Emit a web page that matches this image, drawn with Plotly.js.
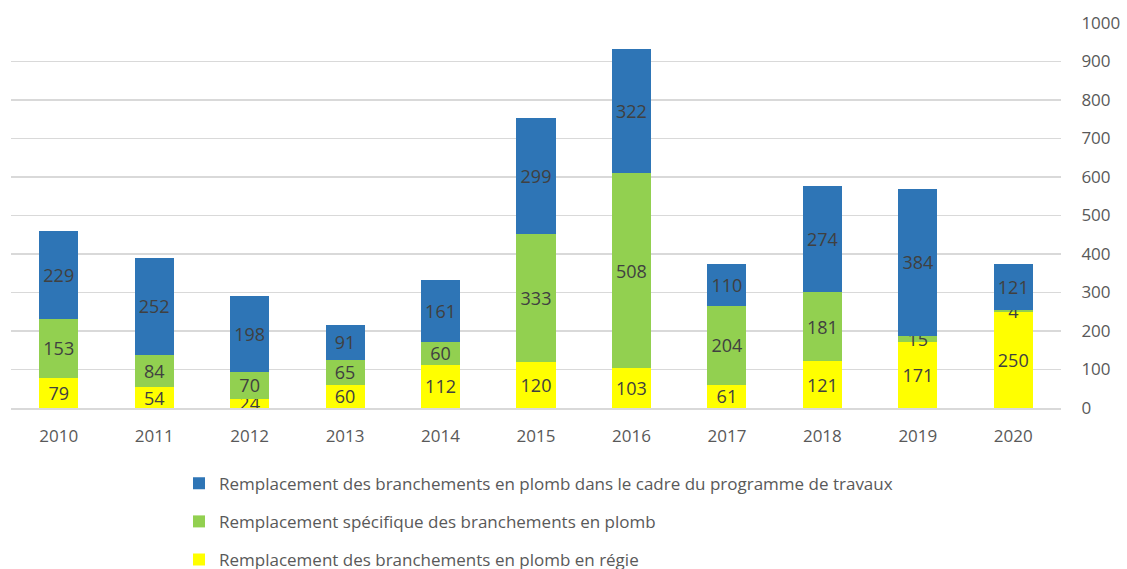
<!DOCTYPE html>
<html>
<head>
<meta charset="utf-8">
<script src="https://cdn.plot.ly/plotly-3.0.1.min.js"></script>
<style>html,body{margin:0;padding:0;background:#fff;}#chart{width:1127px;height:569px;}</style>
</head>
<body>
<div id="chart"></div>
<script>
const years = ['2010','2011','2012','2013','2014','2015','2016','2017','2018','2019','2020'];
const regie = [79, 54, 24, 60, 112, 120, 103, 61, 121, 171, 250];
const specifique = [153, 84, 70, 65, 60, 333, 508, 204, 181, 15, 4];
const programme = [229, 252, 198, 91, 161, 299, 322, 110, 274, 384, 121];
const seriesNames = [
  'Remplacement des branchements en plomb en régie',
  'Remplacement spécifique des branchements en plomb',
  'Remplacement des branchements en plomb dans le cadre du programme de travaux'
];
const seriesColors = ['#FFFF00', '#92D050', '#2E75B6'];
const seriesValues = [regie, specifique, programme];
const legendRanks = [3, 2, 1];

const FONT = 'Open Sans, sans-serif';
const traces = seriesValues.map((vals, i) => ({
  type: 'bar',
  x: years,
  y: vals,
  name: seriesNames[i],
  legendgroup: 'g' + i,
  legendrank: legendRanks[i],
  marker: {color: seriesColors[i], line: {width: 0}},
  text: vals.map(String),
  textposition: 'inside',
  insidetextanchor: 'middle',
  textangle: 0,
  constraintext: 'none',
  cliponaxis: false,
  textfont: {family: FONT, size: 18, color: '#404040'},
  hoverinfo: 'skip'
}));

const layout = {
  width: 1127, height: 569,
  margin: {l: 11, r: 66, t: 23, b: 161, autoexpand: false},
  barmode: 'stack',
  bargap: 0.59,
  paper_bgcolor: '#ffffff',
  plot_bgcolor: '#ffffff',
  font: {family: FONT, color: '#595959'},
  showlegend: true,
  legend: {
    orientation: 'v',
    traceorder: 'grouped',
    tracegroupgap: 13,
    x: 0.160, xanchor: 'left',
    y: -0.15, yanchor: 'top',
    font: {family: FONT, size: 17, color: '#595959'},
    itemclick: false, itemdoubleclick: false
  },
  xaxis: {
    type: 'category',
    showgrid: false,
    showline: true, linecolor: '#d9d9d9', linewidth: 2,
    ticks: 'outside', ticklen: 12, tickcolor: 'rgba(0,0,0,0)',
    tickfont: {family: FONT, size: 17, color: '#595959'},
    fixedrange: true
  },
  yaxis: {
    side: 'right',
    range: [0, 1000],
    dtick: 100,
    showgrid: true, gridcolor: '#d9d9d9', gridwidth: 1.5,
    zeroline: false,
    showline: false,
    ticks: 'outside', ticklen: 16, tickcolor: 'rgba(0,0,0,0)',
    tickfont: {family: FONT, size: 17, color: '#595959'},
    fixedrange: true
  }
};

Plotly.newPlot('chart', traces, layout, {displayModeBar: false, staticPlot: true});
</script>
</body>
</html>
